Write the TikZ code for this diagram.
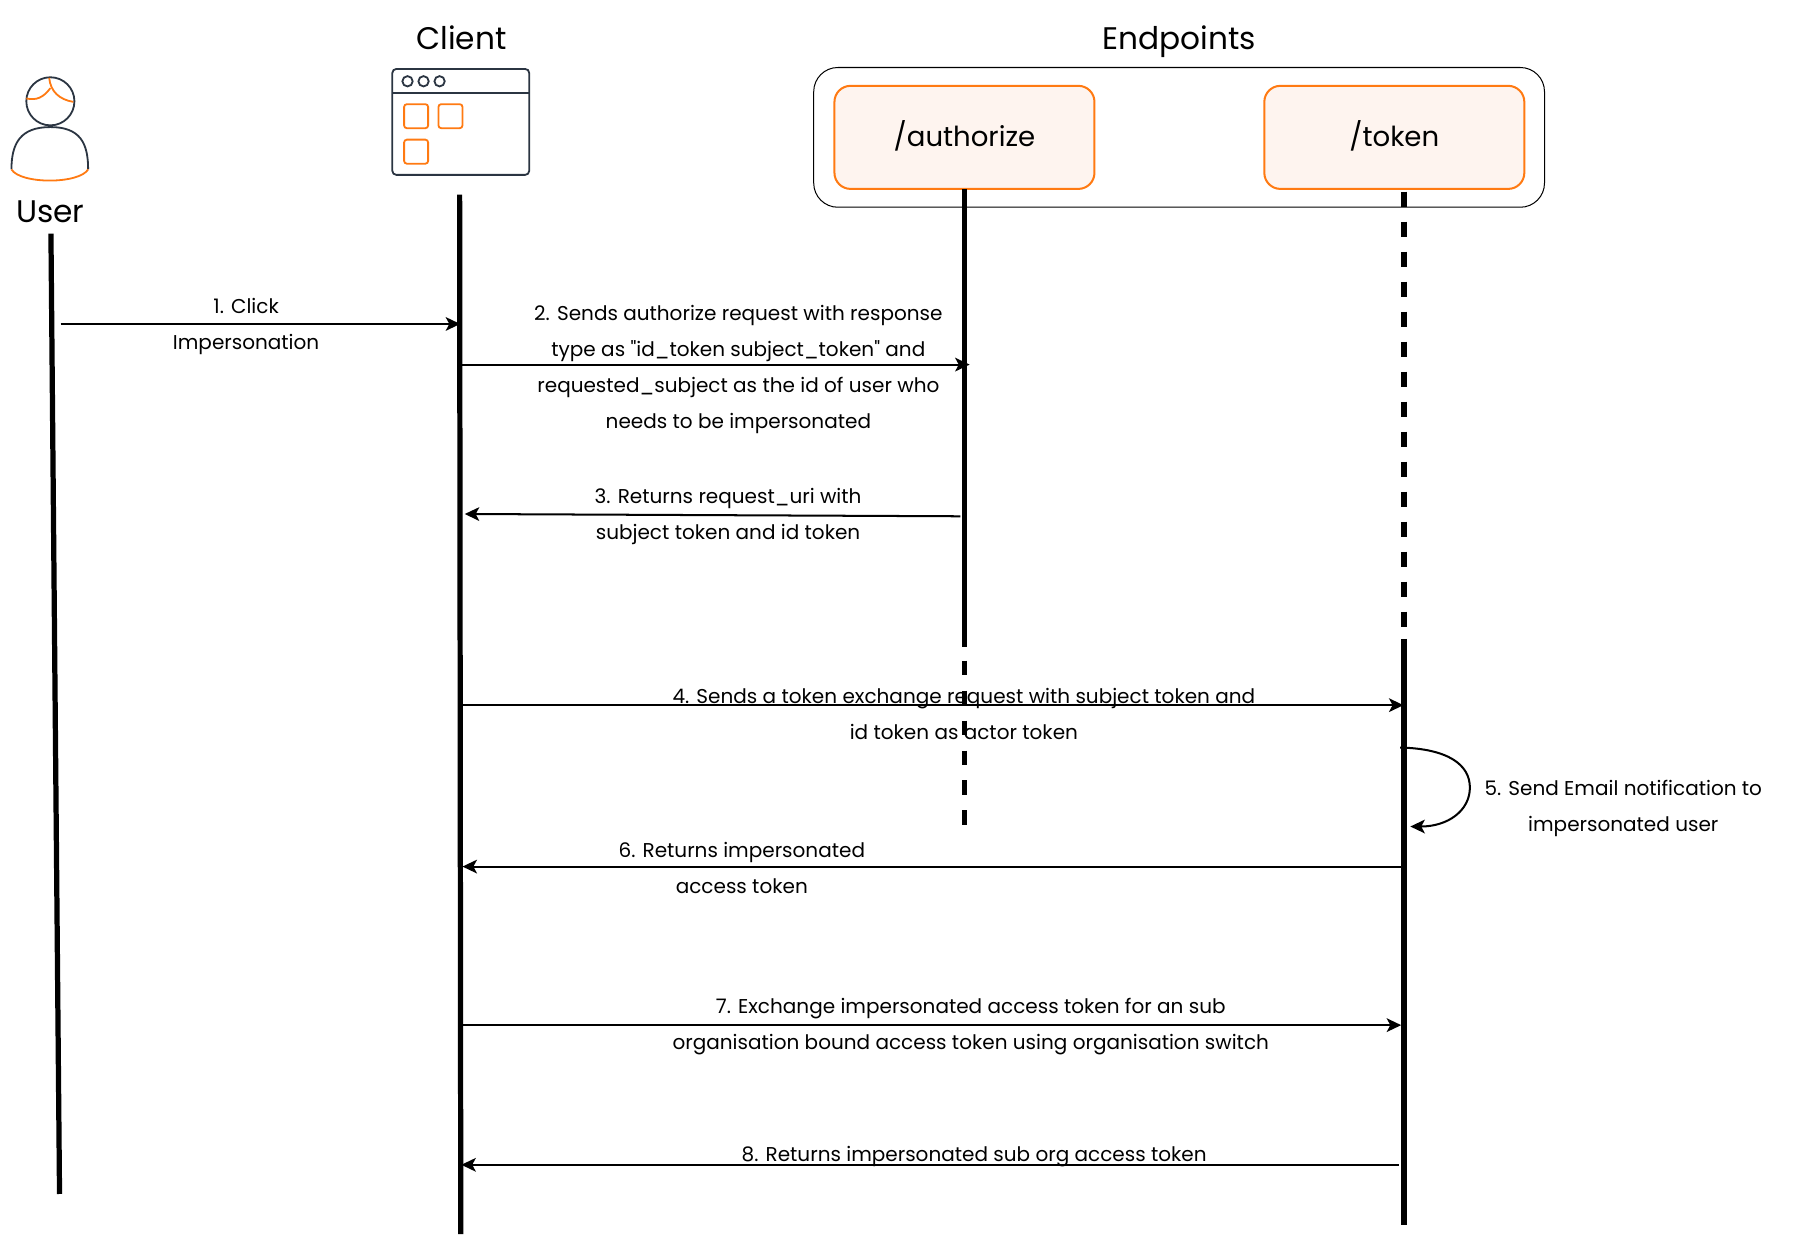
\documentclass[tikz,border=0pt]{standalone}
\usepackage{fontspec}
\setmainfont{Poppins}[Ligatures=TeXOff]
\usepackage{tikz}
\usetikzlibrary{arrows.meta,positioning,calc}
\definecolor{accent}{HTML}{FF7A12}
\definecolor{accentfill}{HTML}{FEF4EF}
\definecolor{icon}{HTML}{2B3542}

\begin{document}
\begin{tikzpicture}[
    x=0.01cm, y=-0.01cm,
    title/.style={font=\fontsize{7.75}{10}\selectfont, inner sep=0pt},
    endpoint/.style={rectangle, draw=accent, fill=accentfill, line width=0.5pt, rounded corners=4pt, minimum width=2.27cm, minimum height=0.9cm, text height=5.3pt, text depth=0.87pt, font=\fontsize{6.85}{10}\selectfont},
    group/.style={rectangle, draw, line width=0.25pt, rounded corners=6pt, minimum width=6.38cm, minimum height=1.22cm},
    lifeline/.style={line width=1.3pt},
    dashline/.style={line width=1.4pt, dash pattern=on 3.7pt off 3.75pt},
    arrow/.style={-{Stealth[length=3.6pt,width=3.4pt,inset=0.9pt]}, line width=0.5pt},
    note/.style={font=\fontsize{4.97}{8.96}\selectfont, align=center, inner sep=0pt},
    iconline/.style={draw=icon, line width=0.45pt},
    hair/.style={draw=accent, line width=0.45pt},
    tile/.style={rectangle, draw=accent, line width=0.45pt, rounded corners=0.7pt, minimum size=0.21cm, inner sep=0pt},
    dot/.style={circle, draw=icon, line width=0.45pt, minimum size=0.09cm, inner sep=0pt}
]
    \useasboundingbox (0,0) rectangle (1568,1082);

    % === Headings ===
    \node[title] (userLabel) at (44,185) {User};
    \node[title] (clientLabel) at (403,33) {Client};
    \node[title] (endpointsLabel) at (1030,36) {Endpoints};

    % === User icon ===
    \node[circle, iconline, minimum size=0.42cm, inner sep=0pt] (head) at (44,88.5) {};
    \draw[iconline] (10,148) .. controls (10,125) and (18,111) .. (44,111) .. controls (70,111) and (77,125) .. (77,148);
    \draw[hair] (10,148) .. controls (18,161) and (69,161) .. (77,148);
    \draw[hair] (43,68) .. controls (44,80) and (52,87) .. (64,89);
    \draw[hair] (44,77) .. controls (38,85) and (32,88) .. (23,86);

    % === Client window icon ===
    \node[rectangle, iconline, rounded corners=1pt, minimum width=1.195cm, minimum height=0.925cm, inner sep=0pt] (window) at (402.5,106.5) {};
    \coordinate (barLeft) at (342.5,81);
    \coordinate (barRight) at (462,81);
    \draw[iconline] (barLeft) -- (barRight);
    \node[dot] (dotA) at (356,71) {};
    \node[dot] (dotB) at (370,71) {};
    \node[dot] (dotC) at (384,71) {};
    \node[tile] (tileA) at (363.5,101.5) {};
    \node[tile] (tileB) at (393.5,101.5) {};
    \node[tile] (tileC) at (363.5,132.5) {};

    % === Endpoints group ===
    \node[group] (endpoints) at (1030,120) {};
    \node[endpoint] (authorize) at (842.5,120) {/authorize};
    \node[endpoint] (token) at (1218,120) {/token};

    % === Lifelines ===
    \coordinate (userTop) at (44.5,204);
    \coordinate (userEnd) at (52,1043);
    \coordinate (clientTop) at (401.5,170);
    \coordinate (clientEnd) at (402.5,1078);
    \coordinate (authorizeTop) at (842.5,165);
    \coordinate (authorizeMid) at (842.5,565);
    \coordinate (authorizeDash) at (842.5,577);
    \coordinate (authorizeEnd) at (842.5,720.6);
    \coordinate (tokenTop) at (1226.5,167.5);
    \coordinate (tokenMid) at (1226.5,558);
    \coordinate (tokenEnd) at (1226.5,1070);

    \draw[lifeline] (userTop) -- (userEnd);
    \draw[lifeline] (clientTop) -- (clientEnd);
    \draw[lifeline] (authorizeTop) -- (authorizeMid);
    \draw[dashline] (authorizeDash) -- (authorizeEnd);
    \draw[dashline] (tokenTop) -- (tokenMid);
    \draw[lifeline] (tokenMid) -- (tokenEnd);

    % === Step 1 ===
    \coordinate (clickFrom) at (53,283);
    \coordinate (clickTo) at (402,283);
    \draw[arrow] (clickFrom) -- (clickTo);
    \node[note] (clickNote) at (215,285) {1. Click\\Impersonation};

    % === Step 2 ===
    \coordinate (requestFrom) at (403,318.5);
    \coordinate (requestTo) at (847,318.5);
    \draw[arrow] (requestFrom) -- (requestTo);
    \node[note] (requestNote) at (645,322.5) {2. Sends authorize request with response\\type as "id\_token subject\_token" and\\requested\_subject as the id of user who\\needs to be impersonated};

    % === Step 3 ===
    \coordinate (uriFrom) at (839,451);
    \coordinate (uriTo) at (406,449);
    \draw[arrow] (uriFrom) -- (uriTo);
    \node[note] (uriNote) at (636,451) {3. Returns request\_uri with\\subject token and id token};

    % === Step 4 ===
    \coordinate (exchangeFrom) at (403,616);
    \coordinate (exchangeTo) at (1226,616);
    \draw[arrow] (exchangeFrom) -- (exchangeTo);
    \node[note] (exchangeNote) at (842,623.5) {4. Sends a token exchange request with subject token and\\id token as actor token};

    % === Step 5 ===
    \coordinate (mailFrom) at (1223,653);
    \coordinate (mailTo) at (1232,722);
    \draw[arrow] (mailFrom) .. controls (1265,654) and (1284,668) .. (1284,688) .. controls (1284,708) and (1265,722) .. (mailTo);
    \node[note] (mailNote) at (1418,706) {5. Send Email notification to\\impersonated user};

    % === Step 6 ===
    \coordinate (accessFrom) at (1226,757);
    \coordinate (accessTo) at (404,757);
    \draw[arrow] (accessFrom) -- (accessTo);
    \node[note] (accessNote) at (648,758) {6. Returns impersonated\\access token};

    % === Step 7 ===
    \coordinate (switchFrom) at (403,895.5);
    \coordinate (switchTo) at (1224,895.5);
    \draw[arrow] (switchFrom) -- (switchTo);
    \node[note] (switchNote) at (848,896.7) {7. Exchange impersonated access token for an sub\\organisation bound access token using organisation switch};

    % === Step 8 ===
    \coordinate (subOrgFrom) at (1222,1017.5);
    \coordinate (subOrgTo) at (403,1017.5);
    \draw[arrow] (subOrgFrom) -- (subOrgTo);
    \node[note] (subOrgNote) at (851,1010) {8. Returns impersonated sub org access token};
\end{tikzpicture}
\end{document}
